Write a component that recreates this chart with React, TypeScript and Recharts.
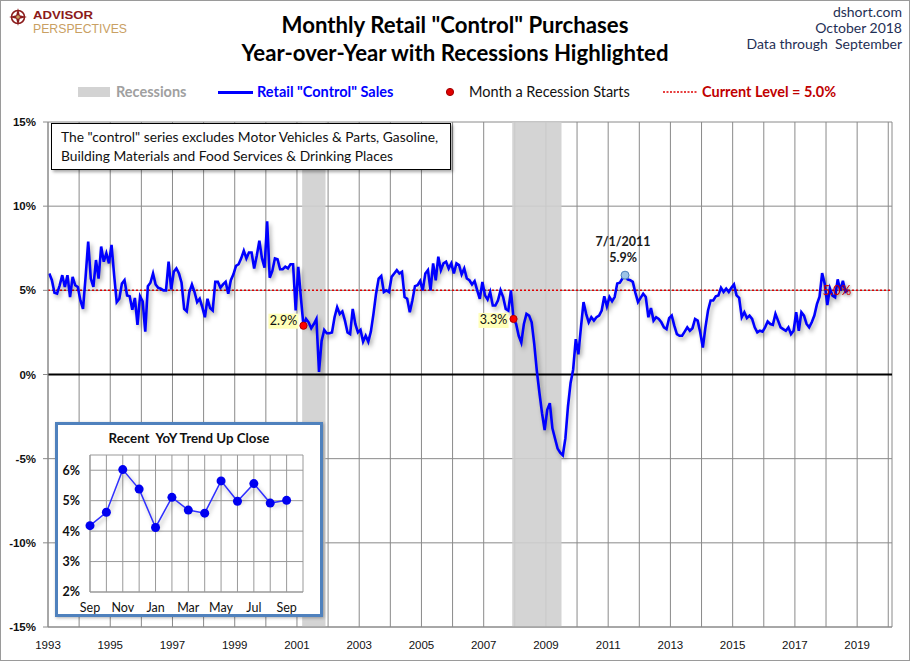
import React from 'react';
import {
  ComposedChart,
  LineChart,
  Line,
  XAxis,
  YAxis,
  CartesianGrid,
  ReferenceLine,
  ReferenceArea,
  ReferenceDot,
} from 'recharts';

// ---------- data (YoY % change, monthly, Jan..Dec) ----------
const y1993 = [6.0, 5.6, 4.85, 4.8, 5.3, 5.9, 5.2, 5.9, 4.6, 5.8, 5.3, 5.2];
const y1994 = [4.4, 3.9, 5.8, 7.9, 5.7, 5.2, 6.8, 5.7, 7.6, 6.7, 7.2, 6.6];
const y1995 = [7.7, 5.9, 4.3, 4.5, 5.4, 5.6, 4.7, 4.65, 3.85, 4.55, 2.95, 4.65];
const y1996 = [4.35, 2.55, 5.25, 5.45, 6.0, 5.35, 5.15, 5.1, 5.0, 5.0, 6.7, 5.05];
const y1997 = [6.1, 6.3, 6.0, 5.45, 3.9, 3.75, 4.9, 5.35, 4.9, 4.3, 4.5, 4.0];
const y1998 = [3.4, 4.5, 3.95, 3.8, 5.5, 5.5, 5.15, 5.35, 5.5, 4.8, 5.6, 5.95];
const y1999 = [6.45, 6.55, 6.9, 7.35, 6.9, 7.25, 7.25, 6.3, 7.05, 7.95, 6.9, 6.35];
const y2000 = [9.1, 5.75, 6.15, 6.9, 6.85, 6.25, 6.25, 6.4, 6.3, 6.55, 6.55, 3.8];
const y2001 = [6.4, 4.6, 2.9, 3.3, 3.1, 2.75, 3.0, 3.3, 0.15, 2.0, 2.65, 2.45];
const y2002 = [2.45, 2.5, 3.4, 4.0, 3.6, 3.75, 3.2, 2.5, 2.4, 3.9, 3.0, 2.5];
const y2003 = [2.65, 1.95, 2.3, 1.95, 2.55, 3.6, 4.8, 5.7, 5.85, 4.9, 5.0, 4.9];
const y2004 = [5.8, 6.0, 6.2, 6.0, 6.1, 4.6, 4.5, 3.7, 4.4, 5.25, 5.3, 5.55];
const y2005 = [5.0, 6.0, 6.2, 5.0, 6.6, 5.6, 7.0, 6.2, 6.6, 6.7, 6.3, 6.6];
const y2006 = [6.0, 6.6, 6.5, 5.95, 6.3, 5.7, 5.6, 5.35, 5.55, 5.0, 4.5, 5.5];
const y2007 = [4.7, 4.45, 4.9, 4.1, 4.1, 4.4, 5.0, 4.6, 3.9, 3.8, 5.0, 3.3];
const y2008 = [3.0, 2.3, 1.9, 3.0, 3.6, 3.5, 3.1, 1.8, 0.2, -1.1, -2.3, -3.3];
const y2009 = [-2.1, -1.7, -3.2, -3.8, -4.4, -4.65, -4.8, -3.8, -1.9, -0.5, 0.3, 2.1];
const y2010 = [1.2, 2.8, 4.3, 3.6, 3.1, 3.4, 3.2, 3.4, 3.5, 3.8, 4.65, 4.05];
const y2011 = [4.6, 4.35, 4.6, 5.4, 5.45, 5.7, 5.9, 5.65, 5.6, 5.5, 4.85, 4.3];
const y2012 = [4.55, 4.8, 4.6, 3.4, 3.95, 3.2, 3.4, 3.3, 3.1, 2.8, 2.7, 3.35];
const y2013 = [3.5, 2.9, 2.4, 2.3, 2.3, 2.55, 2.8, 2.6, 2.75, 3.3, 3.2, 2.5];
const y2014 = [1.6, 2.8, 3.8, 4.4, 4.4, 4.65, 4.7, 5.15, 4.9, 5.1, 4.9, 5.15];
const y2015 = [5.35, 4.7, 4.55, 3.4, 3.7, 3.35, 3.5, 3.3, 2.8, 2.5, 2.6, 2.55];
const y2016 = [2.8, 3.15, 3.0, 2.95, 3.6, 3.2, 2.8, 2.7, 2.6, 2.8, 2.4, 2.6];
const y2017 = [3.7, 2.6, 3.7, 3.5, 3.0, 2.8, 3.1, 3.5, 4.18, 4.62, 6.02, 5.38];
const y2018 = [4.12, 5.11, 4.69, 4.59, 5.65, 4.98, 5.56, 4.92, 5.01];

const firstYear = 1993;
const yearlyValues = [
  y1993, y1994, y1995, y1996, y1997, y1998, y1999, y2000, y2001, y2002,
  y2003, y2004, y2005, y2006, y2007, y2008, y2009, y2010, y2011, y2012,
  y2013, y2014, y2015, y2016, y2017, y2018,
];

const yearTicks = [
  1993, 1994, 1995, 1996, 1997, 1998, 1999, 2000, 2001, 2002, 2003, 2004, 2005, 2006,
  2007, 2008, 2009, 2010, 2011, 2012, 2013, 2014, 2015, 2016, 2017, 2018, 2019, 2020,
];
const yTicks = [-15, -10, -5, 0, 5, 10, 15];

// recessions (start of first month, end of last month)
const recessionStarts = [2001 + 2 / 12, 2007 + 11 / 12];
const recessionEnds = [2001 + 11 / 12, 2009 + 6 / 12];
const recessionStartValues = [2.9, 3.3];
const recessionStartLabels = ['2.9%', '3.3%'];

const currentLevel = 5.0;
const currentLabel = '5.0%';
const peakYear = 2011;
const peakMonth = 6; // July
const peakValue = 5.9;
const peakDateLabel = '7/1/2011';
const peakValueLabel = '5.9%';

// inset: recent 13 months
const recentMonths = ['Sep', 'Oct', 'Nov', 'Dec', 'Jan', 'Feb', 'Mar', 'Apr', 'May', 'Jun', 'Jul', 'Aug', 'Sep'];
const recentValues = [4.18, 4.62, 6.02, 5.38, 4.12, 5.11, 4.69, 4.59, 5.65, 4.98, 5.56, 4.92, 5.01];
const insetYTicks = [2, 3, 4, 5, 6];
const insetXTicks = [0, 1, 2, 3, 4, 5, 6, 7, 8, 9, 10, 11, 12, 13];

// ---------- build tables ----------
const monthT = (year: number, m: number) => year + (m + 0.5) / 12;

const mainData = yearlyValues.flatMap((arr, yi) =>
  arr.map((v, mi) => ({ t: monthT(firstYear + yi, mi), v }))
);
const lastIndex = mainData.length - 1;
const insetData = recentValues.map((v, i) => ({ i, v }));

const SANS = "'Liberation Sans', Arial, sans-serif";
const CAL = "Lato, 'Open Sans', sans-serif";

const makeRecessionDot = (label: string, boxDy: number) => (props: any) => {
  const { cx, cy } = props;
  if (cx == null || cy == null) return <g />;
  return (
    <g>
      <rect x={cx - 35} y={cy + boxDy} width={30} height={15} fill="#FFFFB8" />
      <text x={cx - 20} y={cy + boxDy + 11.5} textAnchor="middle" fontSize={12.5} fontFamily={CAL} fill="#111">
        {label}
      </text>
      <circle cx={cx} cy={cy} r={3.6} fill="#FF0000" stroke="#B00000" strokeWidth={1} />
    </g>
  );
};

const PeakDot = (props: any) => {
  const { cx, cy } = props;
  if (cx == null || cy == null) return <g />;
  return (
    <g>
      <text x={cx - 2} y={cy - 29} textAnchor="middle" fontSize={12.5} fontWeight={700} fontFamily={CAL} fill="#1a1a1a">
        {peakDateLabel}
      </text>
      <text x={cx - 2} y={cy - 13} textAnchor="middle" fontSize={12.5} fontWeight={700} fontFamily={CAL} fill="#1a1a1a">
        {peakValueLabel}
      </text>
      <circle cx={cx} cy={cy} r={4} fill="#9DC3E6" stroke="#4A7EBB" strokeWidth={1} />
    </g>
  );
};

const endLabel = (props: any) => {
  const { x, y, index } = props;
  if (index !== lastIndex || x == null || y == null) return null;
  return (
    <text
      key="endlabel"
      x={x + 3}
      y={y + 5}
      textAnchor="end"
      fontSize={13}
      fontFamily={CAL}
      fill="#D00000"
      style={{ filter: 'drop-shadow(1px 1px 1px rgba(0,0,0,0.35))' }}
    >
      {currentLabel}
    </text>
  );
};

function Logo() {
  return (
    <svg width={140} height={40} style={{ position: 'absolute', left: 0, top: 0 }}>
      <g transform="translate(9,8)">
        <circle cx={9} cy={9} r={6.5} fill="none" stroke="#8B1C1C" strokeWidth={1.6} />
        <polygon points="9,0 10.8,7.2 18,9 10.8,10.8 9,18 7.2,10.8 0,9 7.2,7.2" fill="#8B1C1C" />
        <circle cx={9} cy={9} r={1.8} fill="#C9A063" />
      </g>
      <text
        x={33}
        y={19}
        fontFamily={SANS}
        fontWeight={700}
        fontSize={11.5}
        fill="#8B1A1A"
        textLength={60}
        lengthAdjust="spacingAndGlyphs"
      >
        ADVISOR
      </text>
      <text
        x={33}
        y={33}
        fontFamily={SANS}
        fontSize={13}
        fill="#C9A063"
        textLength={94}
        lengthAdjust="spacingAndGlyphs"
      >
        PERSPECTIVES
      </text>
    </svg>
  );
}

function Header() {
  const titleStyle: React.CSSProperties = {
    position: 'absolute',
    left: 0,
    width: 910,
    textAlign: 'center',
    fontFamily: CAL,
    fontWeight: 700,
    fontSize: 22.2,
    color: '#000',
    whiteSpace: 'nowrap',
    lineHeight: '26px',
  };
  const rightStyle: React.CSSProperties = {
    position: 'absolute',
    right: 8,
    fontFamily: CAL,
    fontSize: 14,
    color: '#1F2F55',
    whiteSpace: 'nowrap',
    textAlign: 'right',
    lineHeight: '16px',
  };
  return (
    <>
      <div style={{ ...titleStyle, top: 12 }}>Monthly Retail "Control" Purchases</div>
      <div style={{ ...titleStyle, top: 40 }}>Year-over-Year with Recessions Highlighted</div>
      <div style={{ ...rightStyle, top: 4 }}>dshort.com</div>
      <div style={{ ...rightStyle, top: 20 }}>October 2018</div>
      <div style={{ ...rightStyle, top: 36 }}>Data through&nbsp; September</div>
    </>
  );
}

function Legend() {
  const txt: React.CSSProperties = {
    position: 'absolute',
    top: 83,
    fontFamily: CAL,
    fontSize: 14.5,
    lineHeight: '18px',
    whiteSpace: 'nowrap',
  };
  return (
    <>
      <div style={{ position: 'absolute', left: 78, top: 87, width: 32, height: 10, background: '#D3D3D3' }} />
      <div style={{ ...txt, left: 116, color: '#A0A0A0', fontWeight: 700 }}>Recessions</div>
      <div style={{ position: 'absolute', left: 218, top: 91, width: 35, height: 3, background: '#0000FF' }} />
      <div style={{ ...txt, left: 257, color: '#0000FF', fontWeight: 700 }}>Retail "Control" Sales</div>
      <svg width={10} height={10} style={{ position: 'absolute', left: 445, top: 87 }}>
        <circle cx={5} cy={5} r={3.6} fill="#E00000" stroke="#A00000" strokeWidth={1} />
      </svg>
      <div style={{ ...txt, left: 469, color: '#111' }}>Month a Recession Starts</div>
      <svg width={36} height={6} style={{ position: 'absolute', left: 663, top: 89 }}>
        <line x1={0} y1={3} x2={35} y2={3} stroke="#E00000" strokeWidth={1.5} strokeDasharray="2 1.5" />
      </svg>
      <div style={{ ...txt, left: 702, color: '#C00000', fontWeight: 700 }}>Current Level = 5.0%</div>
    </>
  );
}

function NoteBox() {
  return (
    <div
      style={{
        position: 'absolute',
        left: 51,
        top: 123,
        width: 400,
        height: 47,
        boxSizing: 'border-box',
        border: '1px solid #000',
        background: '#fff',
        boxShadow: '2px 2px 3px rgba(0,0,0,0.35)',
        fontFamily: CAL,
        fontSize: 13.8,
        lineHeight: '19px',
        color: '#111',
        padding: '3px 0 0 9px',
        whiteSpace: 'nowrap',
      }}
    >
      <div>The "control" series excludes Motor Vehicles &amp; Parts, Gasoline,</div>
      <div>Building Materials and Food Services &amp; Drinking Places</div>
    </div>
  );
}

function Inset() {
  return (
    <div
      style={{
        position: 'absolute',
        left: 55,
        top: 422,
        width: 268,
        height: 195,
        boxSizing: 'border-box',
        border: '3px solid #4F81BD',
        background: '#fff',
        boxShadow: '1px 1px 3px rgba(0,0,0,0.3)',
      }}
    >
      <div
        style={{
          position: 'absolute',
          left: 0,
          top: 6,
          width: 262,
          textAlign: 'center',
          fontFamily: CAL,
          fontWeight: 700,
          fontSize: 13.3,
          color: '#111',
          whiteSpace: 'pre',
          lineHeight: '15px',
        }}
      >
        {'Recent  YoY Trend Up Close'}
      </div>
      <div style={{ position: 'absolute', left: 0, top: 0 }}>
        <LineChart width={262} height={189} data={insetData} margin={{ top: 30, right: 17, bottom: 0, left: 0 }}>
          <CartesianGrid stroke="#999" strokeWidth={1} vertical horizontal />
          <XAxis
            type="number"
            dataKey="i"
            domain={[0, 13]}
            ticks={insetXTicks}
            interval={0}
            height={22}
            tickLine={false}
            tickSize={6}
            tickMargin={5}
            axisLine={{ stroke: '#999' }}
            tickFormatter={(i: number) => (i % 2 === 0 && i < recentMonths.length ? recentMonths[i] : '')}
            tick={{ fontSize: 12.5, fontFamily: CAL, fill: '#111' }}
          />
          <YAxis
            type="number"
            domain={[2, 6.5]}
            ticks={insetYTicks}
            interval={0}
            width={32}
            tickLine={false}
            tickSize={6}
            tickMargin={4}
            axisLine={{ stroke: '#999' }}
            tickFormatter={(v: number) => `${v}%`}
            tick={{ fontSize: 12.5, fontFamily: CAL, fontWeight: 700, fill: '#111' }}
          />
          <Line
            dataKey="v"
            type="linear"
            stroke="#3030FF"
            strokeWidth={1.5}
            dot={{ r: 4.5, fill: '#0000F0', stroke: '#0000F0', strokeWidth: 0 }}
            isAnimationActive={false}
            className="shadowed"
          />
        </LineChart>
      </div>
    </div>
  );
}

export default function App() {
  return (
    <div
      style={{
        position: 'absolute',
        left: 0,
        top: 0,
        width: 910,
        height: 661,
        background: '#fff',
        overflow: 'hidden',
      }}
    >
      <style>{`
        .shadowed .recharts-line-curve, .mainline .recharts-line-curve { filter: drop-shadow(2px 3px 2px rgba(0,0,0,0.32)); }
      `}</style>
      <div style={{ position: 'absolute', left: 0, top: 0 }}>
        <ComposedChart width={910} height={661} data={mainData} margin={{ top: 122, right: 18, bottom: 0, left: 8 }}>
          <CartesianGrid stroke="#8a8a8a" strokeWidth={1} vertical horizontal />
          <XAxis
            type="number"
            dataKey="t"
            domain={[1993, 2020.12]}
            ticks={yearTicks}
            interval={0}
            height={34}
            allowDataOverflow
            tickLine={false}
            tickSize={6}
            tickMargin={8}
            axisLine={{ stroke: '#8a8a8a' }}
            tickFormatter={(y: number) => (y % 2 === 1 && y < 2020 ? String(y) : '')}
            tick={{ fontSize: 11.5, fontFamily: SANS, fill: '#111' }}
          />
          <YAxis
            type="number"
            domain={[-15, 15]}
            ticks={yTicks}
            interval={0}
            width={40}
            tickSize={5}
            tickMargin={7}
            tickLine={{ stroke: '#8a8a8a' }}
            axisLine={{ stroke: '#8a8a8a' }}
            tickFormatter={(v: number) => `${v}%`}
            tick={{ fontSize: 11.5, fontFamily: SANS, fontWeight: 700, fill: '#111' }}
          />
          {recessionStarts.map((s, i) => (
            <ReferenceArea
              key={`rec${i}`}
              x1={s}
              x2={recessionEnds[i]}
              y1={-15}
              y2={15}
              fill="#CFCFCF"
              fillOpacity={0.9}
              stroke="none"
            />
          ))}
          <ReferenceLine y={0} stroke="#000" strokeWidth={2.2} />
          <ReferenceLine y={currentLevel} stroke="#E00000" strokeWidth={1.5} strokeDasharray="2 2" />
          <Line
            dataKey="v"
            type="linear"
            stroke="#0000FF"
            strokeWidth={2.6}
            dot={false}
            label={endLabel}
            isAnimationActive={false}
            className="mainline"
          />
          {recessionStarts.map((s, i) => (
            <ReferenceDot
              key={`rd${i}`}
              x={s + 0.5 / 12}
              y={recessionStartValues[i]}
              r={3.6}
              shape={makeRecessionDot(recessionStartLabels[i], i === 0 ? -12 : -6)}
            />
          ))}
          <ReferenceDot x={monthT(peakYear, peakMonth)} y={peakValue} r={4} shape={PeakDot} />
        </ComposedChart>
      </div>
      <Logo />
      <Header />
      <Legend />
      <NoteBox />
      <Inset />
      <div
        style={{
          position: 'absolute',
          left: 0,
          top: 0,
          width: 910,
          height: 661,
          boxSizing: 'border-box',
          border: '1px solid #9a9a9a',
          pointerEvents: 'none',
        }}
      />
    </div>
  );
}
